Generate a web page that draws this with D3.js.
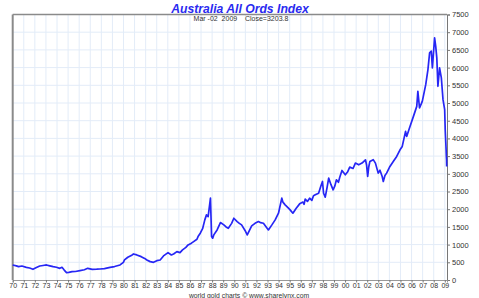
<!DOCTYPE html>
<html><head><meta charset="utf-8">
<script src="https://cdn.jsdelivr.net/npm/d3@7"></script>
<style>body{margin:0;background:#fff}svg{display:block}</style>
</head><body>
<svg id="c" width="479" height="298"></svg>
<script>
const title = "Australia All Ords Index";
const subtitle = "Mar -02  2009    Close=3203.8";
const credit = "world gold charts \u00a9 www.sharelynx.com";
const yearTicks = d3.range(1970, 2010);
const yTicks = d3.range(0, 7501, 500);
const years = [1970.00,1970.33,1970.53,1970.83,1971.23,1971.53,1971.83,1972.14,1972.44,1972.74,1973.05,1973.35,1973.65,1973.95,1974.25,1974.45,1974.65,1974.86,1975.06,1975.36,1975.66,1976.07,1976.47,1976.77,1977.18,1977.58,1977.88,1978.28,1978.79,1979.19,1979.69,1979.99,1980.09,1980.39,1980.70,1980.90,1981.20,1981.60,1981.91,1982.11,1982.41,1982.71,1983.01,1983.31,1983.61,1984.02,1984.32,1984.52,1984.82,1985.10,1985.33,1985.63,1985.83,1986.13,1986.33,1986.63,1986.73,1986.93,1987.14,1987.34,1987.49,1987.64,1987.85,1987.95,1988.05,1988.15,1988.45,1988.75,1989.06,1989.26,1989.46,1989.76,1989.96,1990.26,1990.46,1990.66,1990.97,1991.17,1991.37,1991.57,1991.87,1992.18,1992.38,1992.63,1992.88,1993.08,1993.38,1993.69,1993.99,1994.29,1994.39,1994.59,1994.89,1995.04,1995.29,1995.59,1995.90,1996.20,1996.30,1996.40,1996.60,1996.80,1997.00,1997.15,1997.31,1997.61,1997.81,1997.96,1998.06,1998.21,1998.37,1998.52,1998.72,1998.92,1999.07,1999.22,1999.40,1999.52,1999.72,2000.02,2000.22,2000.42,2000.72,2000.93,2001.23,2001.53,2001.84,2001.94,2002.04,2002.14,2002.24,2002.54,2002.74,2002.99,2003.15,2003.35,2003.45,2003.60,2003.75,2004.05,2004.35,2004.66,2004.96,2005.16,2005.46,2005.56,2005.86,2006.17,2006.47,2006.57,2006.72,2006.97,2007.28,2007.48,2007.63,2007.78,2007.88,2008.08,2008.18,2008.28,2008.38,2008.53,2008.69,2008.84,2008.99,2009.04,2009.09,2009.12,2009.14,2009.16,2009.17];
const values = [425,400,377,396,358,340,302,350,396,410,425,400,377,360,330,358,280,208,215,236,240,264,290,330,302,305,311,320,358,380,425,500,566,642,690,736,708,660,610,566,519,500,547,566,680,774,708,736,802,774,849,920,991,1040,1085,1151,1227,1321,1450,1698,1840,1793,2312,1227,1180,1274,1415,1623,1557,1500,1462,1600,1745,1651,1600,1557,1400,1274,1400,1528,1600,1651,1620,1604,1500,1415,1550,1698,1887,2312,2200,2123,2029,1981,1887,2029,2151,2200,2140,2283,2220,2312,2250,2380,2406,2453,2650,2783,2450,2340,2600,2877,2700,2547,2650,2830,2760,2900,3094,2972,3050,3189,3150,3302,3255,3302,3396,3250,2924,3200,3349,3400,3302,3019,3100,2924,2783,2950,3019,3208,3350,3490,3679,3773,4198,4056,4339,4622,4905,5330,4859,5047,5519,5944,6417,6463,5993,6841,6605,6275,5472,5993,5710,5095,4812,4246,3900,3679,3500,3400,3204];

const svg = d3.select("#c");
const L = 12.7, R = 447, T = 14.5, B = 280;
const x = d3.scaleLinear().domain([1970, 2009.2]).range([L, R]);
const y = d3.scaleLinear().domain([0, 7500]).range([B, T]);
const font = "Liberation Sans, Arial, sans-serif";

// grid
svg.append("g").selectAll("line").data(yearTicks.slice(1)).join("line")
  .attr("x1", d => x(d)).attr("x2", d => x(d)).attr("y1", T).attr("y2", B)
  .attr("stroke", "#e3ecf8").attr("stroke-width", 1);
svg.append("g").selectAll("line").data(yTicks.slice(1, -1)).join("line")
  .attr("x1", L).attr("x2", R).attr("y1", d => y(d)).attr("y2", d => y(d))
  .attr("stroke", "#e3ecf8").attr("stroke-width", 1);

// frame
svg.append("line").attr("x1", L).attr("x2", R).attr("y1", T).attr("y2", T).attr("stroke", "#8a8a8a").attr("stroke-width", 1.5);
svg.append("line").attr("x1", L).attr("x2", L).attr("y1", T).attr("y2", B).attr("stroke", "#8a8a8a").attr("stroke-width", 2);

// right axis
const yAxis = svg.append("g").attr("transform", `translate(${R},0)`)
  .call(d3.axisRight(y).tickValues(yTicks).tickSize(3).tickPadding(2).tickFormat(d3.format("d")));
yAxis.select(".domain").attr("stroke", "#777");
yAxis.selectAll(".tick line").attr("stroke", "#777");
yAxis.selectAll("text").attr("font-family", font).attr("font-size", 7.5).attr("fill", "#333");

// bottom axis
const xAxis = svg.append("g").attr("transform", `translate(0,${B})`)
  .call(d3.axisBottom(x).tickValues(yearTicks).tickSize(2.5).tickPadding(0.5).tickFormat(d => String(d).slice(2)));
xAxis.select(".domain").attr("stroke", "#999").attr("stroke-width", 1);
xAxis.selectAll(".tick line").attr("stroke", "#777");
xAxis.selectAll("text").attr("font-family", font).attr("font-size", 7).attr("fill", "#333");

// line
const line = d3.line().x((d, i) => x(years[i])).y(d => y(d));
svg.append("path").datum(values).attr("d", line)
  .attr("fill", "none").attr("stroke", "#2626f5").attr("stroke-width", 1.7).attr("stroke-linejoin", "round");

// texts
svg.append("text").attr("x", 240).attr("y", 12.5).attr("text-anchor", "middle")
  .attr("font-family", font).attr("font-size", 12.2).attr("font-weight", "bold").attr("font-style", "italic")
  .attr("fill", "#2a2af0").text(title);
svg.append("text").attr("x", 241).attr("y", 21).attr("text-anchor", "middle")
  .attr("font-family", font).attr("font-size", 7).attr("fill", "#333").style("white-space", "pre").text(subtitle);
svg.append("text").attr("x", 249).attr("y", 297.5).attr("text-anchor", "middle")
  .attr("font-family", font).attr("font-size", 6.8).attr("fill", "#333").text(credit);
</script>
</body></html>
